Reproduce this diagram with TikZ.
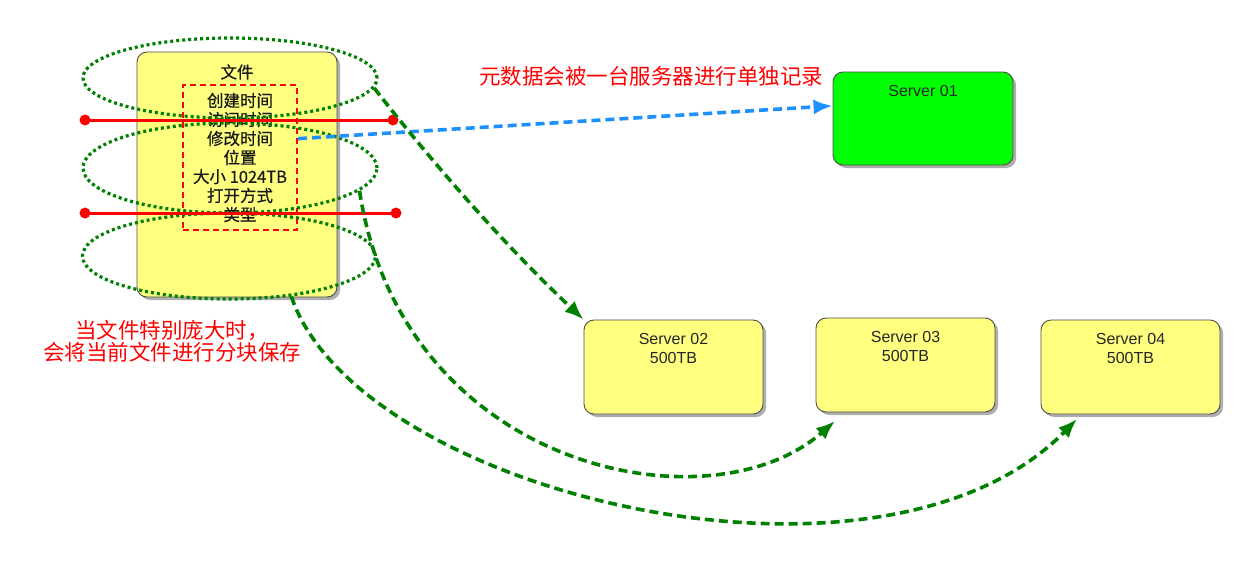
\documentclass[tikz,border=0pt]{standalone}
\usepackage{fontspec}
\setmainfont{Liberation Sans}
\newfontfamily\cjk{Noto Sans CJK SC}
\newfontfamily\cjkheavy{Noto Sans CJK SC}[FakeBold=0.6]
\usetikzlibrary{shapes.geometric,shadows,arrows.meta}

\definecolor{boxyellow}{RGB}{255,255,128}
\definecolor{srvgreen}{RGB}{0,255,0}
\definecolor{linkgreen}{RGB}{0,128,0}
\definecolor{linkblue}{RGB}{30,144,255}

\begin{document}
\begin{tikzpicture}[x=1pt,y=-1pt,
  box/.style={draw=black!70, line width=0.9pt, rounded corners=10pt, fill=boxyellow,
    drop shadow={shadow xshift=3pt, shadow yshift=-3pt, opacity=0.45, fill=black!70}},
  srvtext/.style={align=center, text=black!85, font=\fontsize{16}{19}\selectfont},
  cjktext/.style={align=center, text=black!90, font=\cjkheavy\fontsize{16.5}{19}\selectfont, inner sep=0pt},
  note/.style={align=center, text=red, font=\cjk\fontsize{21.5}{22}\selectfont, inner sep=0pt},
  ring/.style={ellipse, draw=linkgreen, line width=3.2pt, dash pattern=on 3pt off 3pt, inner sep=0pt},
  cut/.style={draw=red, line width=3pt},
  enddot/.style={circle, fill=red, minimum size=11pt, inner sep=0pt},
  split/.style={draw=linkgreen, line width=3.6pt, dash pattern=on 9pt off 5pt,
    -{Latex[length=19pt,width=15pt]}},
  meta/.style={draw=linkblue, line width=3.6pt, dash pattern=on 9pt off 5pt,
    -{Latex[length=19pt,width=15pt]}}
]
\useasboundingbox (0,0) rectangle (1239,576);

% file box with its metadata
\node[box, minimum width=200pt, minimum height=245pt] (file) at (237,174.5) {};
\node[cjktext] (title) at (237,72) {文件};
\node[cjktext, draw=red, line width=2pt, dash pattern=on 6pt off 4pt,
      minimum width=114pt, minimum height=145pt] (info) at (240,157.5)
  {创建时间\\访问时间\\修改时间\\位置\\大小 1024TB\\打开方式\\类型};

% servers
\node[box, fill=srvgreen, minimum width=180pt, minimum height=93pt] (s1) at (923,118.5) {};
\node[srvtext] (s1t) at (923,91) {Server 01};
\node[box, minimum width=179pt, minimum height=94pt] (s2) at (673.5,367) {};
\node[srvtext] (s2t) at (673.5,348.5) {Server 02\\500TB};
\node[box, minimum width=179pt, minimum height=94pt] (s3) at (905.5,365) {};
\node[srvtext] (s3t) at (905.5,346.5) {Server 03\\500TB};
\node[box, minimum width=179pt, minimum height=94pt] (s4) at (1130.5,367) {};
\node[srvtext] (s4t) at (1130.5,348.5) {Server 04\\500TB};

% block rings
\node[ring, minimum width=294pt, minimum height=80pt] (e1) at (230,78) {};
\node[ring, minimum width=294pt, minimum height=90pt] (e2) at (230,168) {};
\node[ring, minimum width=293pt, minimum height=86pt] (e3) at (229,256) {};

% cut lines
\node[enddot] (c1a) at (85,120) {};
\node[enddot] (c1b) at (393,120) {};
\node[enddot] (c2a) at (85,213) {};
\node[enddot] (c2b) at (396,213) {};
\draw[cut] (c1a.center) -- (c1b.center);
\draw[cut] (c2a.center) -- (c2b.center);

% notes
\node[note] (n1) at (651,76) {元数据会被一台服务器进行单独记录};
\node[note] (n2) at (172,341) {当文件特别庞大时，\\会将当前文件进行分块保存};

% links
\coordinate (t3) at (835,421);
\coordinate (t4) at (1077,419);
\draw[meta] (info.18) -- (s1.172);
\draw[split] (e1.-4) .. controls +(72,92) and +(-68,-64) .. (s2.north west);
\draw[split] (e2.-10) .. controls +(43,280) and +(-125,110) .. (t3);
\draw[split] (e3.-33) .. controls +(66,196) and +(-197,201) .. (t4);
\end{tikzpicture}
\end{document}
